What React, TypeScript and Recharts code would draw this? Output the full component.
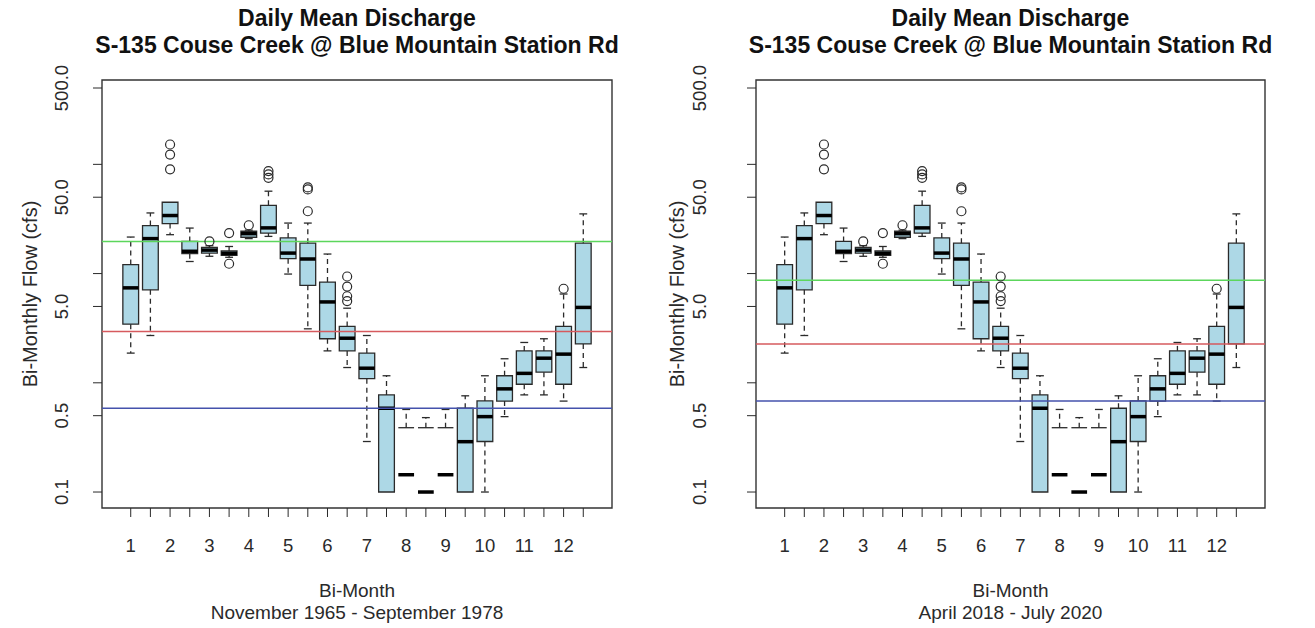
import React from "react";
import { ComposedChart, XAxis, YAxis, Scatter, ReferenceArea, ReferenceLine } from "recharts";

// 24 bi-monthly boxes (two per month), values in cfs
const positions = [1, 2, 3, 4, 5, 6, 7, 8, 9, 10, 11, 12, 13, 14, 15, 16, 17, 18, 19, 20, 21, 22, 23, 24];
const whiskerHigh = [21.6, 35.9, 45, 26.1, 18, 17.7, 25, 56.8, 29.0, 29.0, 15.1, 4.82, 2.71, 1.16, 0.57, 0.48, 0.57, 0.76, 1.16, 1.66, 2.34, 2.53, 6.5, 35.2];
const q3 = [12.1, 27.5, 45, 19.7, 17.4, 16.1, 24.4, 42.2, 21.2, 19.0, 8.36, 3.28, 1.87, 0.775, 0.388, 0.388, 0.388, 0.585, 0.682, 1.16, 1.96, 1.96, 3.28, 19.0];
const median = [7.4, 20.9, 34, 16.0, 16.4, 15.3, 23.2, 26.2, 15.4, 13.6, 5.5, 2.56, 1.36, 0.585, 0.144, 0.1, 0.144, 0.289, 0.49, 0.88, 1.22, 1.68, 1.83, 4.9];
const q1 = [3.44, 7.1, 28.7, 15.2, 15.4, 14.7, 21.5, 23.5, 13.7, 7.8, 2.53, 1.96, 1.09, 0.1, null, null, null, 0.1, 0.29, 0.68, 0.97, 1.25, 0.97, 2.27];
const whiskerLow = [1.87, 2.71, 22.7, 12.9, 14.4, 14.1, 20.9, 21.9, 9.9, 3.12, 1.96, 1.38, 0.29, null, null, null, null, null, 0.1, 0.49, 0.775, 0.775, 0.68, 1.38];

const outlierX = [3, 3, 3, 5, 6, 6, 7, 8, 8, 8, 10, 10, 10, 12, 12, 12, 12, 23];
const outlierY = [152, 123, 90, 19.7, 23.5, 12.3, 27.7, 86.7, 80.9, 75.2, 61.5, 59, 37.2, 9.4, 7.6, 6.2, 5.6, 7.26];

const yTicks = [0.1, 0.5, 1, 5, 10, 50, 100, 500];
const yTickLabels: Record<number, string> = { 0.1: "0.1", 0.5: "0.5", 5: "5.0", 50: "50.0", 500: "500.0" };

const leftLines = { green: 19.7, red: 2.95, blue: 0.585 };
const rightLines = { green: 8.67, red: 2.27, blue: 0.68 };

const X_DOMAIN = [-0.46, 25.46];
const Y_DOMAIN = [0.0714, 592];
const FONT = "'Liberation Sans', Arial, sans-serif";
const INK = "#2a2a2a";

const outliers = outlierX.map((x, i) => ({ x, y: outlierY[i] }));

function Panel({ left, plotLeft, plotRight, subtitle, lines, tickGap, labelX }) {
  const width = plotRight + (left === 0 ? 45 : 50);
  const yAxisW = 40;
  const cx = left + (plotLeft + plotRight) / 2;

  const boxEls = [];
  positions.forEach((p, i) => {
    const lo = p - 0.4;
    const hi = p + 0.4;
    const top = q3[i];
    const bottom = q1[i];
    if (bottom != null) {
      boxEls.push(
        <ReferenceArea key={`b${p}`} x1={lo} x2={hi} y1={bottom} y2={top} fill="#add8e6" fillOpacity={1} stroke={INK} strokeWidth={1.3} ifOverflow="visible" />
      );
    } else {
      boxEls.push(
        <ReferenceLine key={`t${p}`} segment={[{ x: lo, y: top }, { x: hi, y: top }]} stroke={INK} strokeWidth={1.3} ifOverflow="visible" />
      );
    }
    if (whiskerHigh[i] > top) {
      boxEls.push(
        <ReferenceLine key={`wh${p}`} segment={[{ x: p, y: top }, { x: p, y: whiskerHigh[i] }]} stroke={INK} strokeWidth={1.3} strokeDasharray="5 4" ifOverflow="visible" />,
        <ReferenceLine key={`ch${p}`} segment={[{ x: p - 0.2, y: whiskerHigh[i] }, { x: p + 0.2, y: whiskerHigh[i] }]} stroke={INK} strokeWidth={1.3} ifOverflow="visible" />
      );
    }
    if (whiskerLow[i] != null && bottom != null && whiskerLow[i] < bottom) {
      boxEls.push(
        <ReferenceLine key={`wl${p}`} segment={[{ x: p, y: bottom }, { x: p, y: whiskerLow[i] }]} stroke={INK} strokeWidth={1.3} strokeDasharray="5 4" ifOverflow="visible" />,
        <ReferenceLine key={`cl${p}`} segment={[{ x: p - 0.2, y: whiskerLow[i] }, { x: p + 0.2, y: whiskerLow[i] }]} stroke={INK} strokeWidth={1.3} ifOverflow="visible" />
      );
    }
    boxEls.push(
      <ReferenceLine key={`m${p}`} segment={[{ x: lo, y: median[i] }, { x: hi, y: median[i] }]} stroke="#000" strokeWidth={3.5} ifOverflow="visible" />
    );
  });

  const YTick = (props) => {
    const { x, y, payload } = props;
    const label = yTickLabels[payload.value];
    if (!label) return null;
    const tx = x - (tickGap - 9);
    return (
      <text x={tx} y={y} transform={`rotate(-90 ${tx} ${y})`} textAnchor="middle" dominantBaseline="central" fontSize={18.5} fill={INK} fontFamily={FONT}>
        {label}
      </text>
    );
  };

  const XTick = (props) => {
    const { x, y, payload } = props;
    if (payload.value % 2 === 0) return null;
    return (
      <text x={x} y={y + 28} textAnchor="middle" dominantBaseline="central" fontSize={18.5} fill={INK} fontFamily={FONT}>
        {(payload.value + 1) / 2}
      </text>
    );
  };

  return (
    <>
      <div style={{ position: "absolute", left: left, top: 0 }}>
        <ComposedChart
          width={width}
          height={628}
          margin={{ top: 80, right: width - plotRight, bottom: 90, left: plotLeft - yAxisW }}
        >
          <XAxis
            dataKey="x"
            type="number"
            domain={X_DOMAIN}
            ticks={positions}
            interval={0}
            allowDataOverflow
            axisLine={false}
            tickSize={9}
            tickMargin={0}
            tickLine={{ stroke: INK }}
            tick={XTick}
            height={30}
          />
          <YAxis
            dataKey="y"
            type="number"
            scale="log"
            domain={Y_DOMAIN}
            ticks={yTicks}
            interval={0}
            allowDataOverflow
            axisLine={false}
            tickSize={9}
            tickMargin={0}
            tickLine={{ stroke: INK }}
            tick={YTick}
            width={yAxisW}
          />
          <ReferenceArea x1={X_DOMAIN[0]} x2={X_DOMAIN[1]} y1={Y_DOMAIN[0]} y2={Y_DOMAIN[1]} fill="none" stroke="#333" strokeWidth={1.4} ifOverflow="visible" />
          {boxEls}
          <ReferenceLine y={lines.green} stroke="#5cd65c" strokeWidth={1.5} />
          <ReferenceLine y={lines.red} stroke="#d65a5e" strokeWidth={1.5} />
          <ReferenceLine y={lines.blue} stroke="#4452ac" strokeWidth={1.5} />
          <Scatter
            data={outliers}
            isAnimationActive={false}
            shape={(s) => <circle cx={s.cx} cy={s.cy} r={4.5} fill="none" stroke={INK} strokeWidth={1.2} />}
          />
        </ComposedChart>
      </div>
      <div
        style={{
          position: "absolute",
          left: cx,
          top: 5,
          transform: "translateX(-50%)",
          textAlign: "center",
          whiteSpace: "nowrap",
          fontFamily: FONT,
          fontWeight: "bold",
          fontSize: 23,
          lineHeight: "27px",
          color: "#111",
        }}
      >
        Daily Mean Discharge
        <br />
        S-135 Couse Creek @ Blue Mountain Station Rd
      </div>
      <div
        style={{
          position: "absolute",
          left: cx,
          top: 580,
          transform: "translateX(-50%)",
          textAlign: "center",
          whiteSpace: "nowrap",
          fontFamily: FONT,
          fontSize: 19,
          lineHeight: "22px",
          color: INK,
        }}
      >
        Bi-Month
        <br />
        {subtitle}
      </div>
      <div
        style={{
          position: "absolute",
          left: labelX,
          top: 294,
          transform: "translate(-50%, -50%) rotate(-90deg)",
          whiteSpace: "nowrap",
          fontFamily: FONT,
          fontSize: 20,
          color: INK,
        }}
      >
        Bi-Monthly Flow (cfs)
      </div>
    </>
  );
}

export default function App() {
  return (
    <div style={{ position: "absolute", left: 0, top: 0, width: 1315, height: 628, background: "#fff", overflow: "hidden" }}>
      <Panel left={0} plotLeft={102} plotRight={612} subtitle="November 1965 - September 1978" lines={leftLines} tickGap={40} labelX={30} />
      <Panel left={657} plotLeft={99} plotRight={608} subtitle="April 2018 - July 2020" lines={rightLines} tickGap={56} labelX={677} />
    </div>
  );
}
